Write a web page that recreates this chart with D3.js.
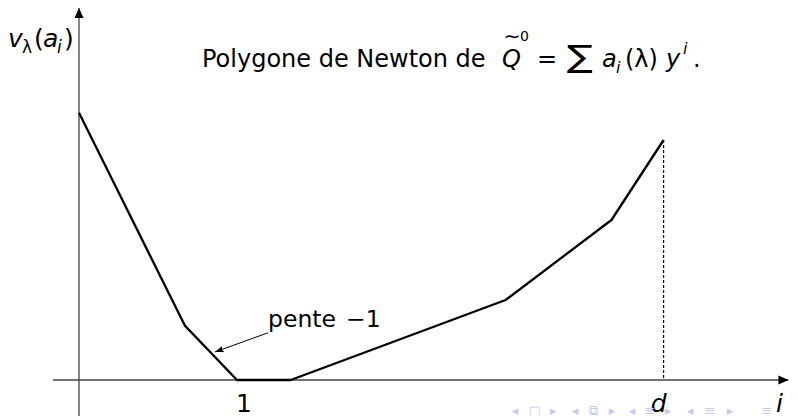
<!DOCTYPE html>
<html>
<head>
<meta charset="utf-8">
<script src="https://cdn.jsdelivr.net/npm/d3@7"></script>
<style>
  html, body { margin: 0; padding: 0; background: #fff; }
  text { font-family: "DejaVu Sans", sans-serif; fill: #000; }
</style>
</head>
<body>
<script>
// vertices of the Newton polygon: i (abscissa) and v_lambda(a_i) (ordinate)
var polyI = [0, 0.67, 1, 1.34, 2.70, 3.37, 3.70];
var polyV = [3.34, 0.68, 0, 0, 1.0, 2.0, 3.0];

// tick labels on the i axis
var tickValues = [1, 3.70];
var tickLabels = ['1', 'd'];

// "pente -1" annotation: arrow from label to the polygon
var arrowFrom = [1.196, 0.59];
var arrowTo = [0.86, 0.35];

// axis extents (in data units)
var xAxisRange = [-0.165, 4.49];
var yAxisRange = [-0.45, 4.65];

var svgWidth = 798;
var svgHeight = 416;

var svg = d3.select('body').append('svg')
    .attr('width', svgWidth)
    .attr('height', svgHeight);

var x = d3.scaleLinear().domain([0, 1]).range([79, 237]);
var y = d3.scaleLinear().domain([0, 1]).range([380, 300]);

var defs = svg.append('defs');
defs.append('marker')
    .attr('id', 'axisHead')
    .attr('viewBox', '0 -5 10 10')
    .attr('refX', 10).attr('refY', 0)
    .attr('markerWidth', 10).attr('markerHeight', 10)
    .attr('markerUnits', 'userSpaceOnUse')
    .attr('orient', 'auto')
    .append('path').attr('d', 'M0,-4.5L10,0L0,4.5Z').attr('fill', '#000');
defs.append('marker')
    .attr('id', 'thinHead')
    .attr('viewBox', '0 -5 10 10')
    .attr('refX', 10).attr('refY', 0)
    .attr('markerWidth', 9).attr('markerHeight', 9)
    .attr('markerUnits', 'userSpaceOnUse')
    .attr('orient', 'auto')
    .append('path').attr('d', 'M0,-3.5L10,0L0,3.5L2,0Z').attr('fill', '#000');

// axes
svg.append('line')
    .attr('x1', x(xAxisRange[0])).attr('y1', y(0))
    .attr('x2', x(xAxisRange[1])).attr('y2', y(0))
    .attr('stroke', '#444').attr('stroke-width', 1.3)
    .attr('marker-end', 'url(#axisHead)');
svg.append('line')
    .attr('x1', x(0)).attr('y1', y(yAxisRange[0]))
    .attr('x2', x(0)).attr('y2', y(yAxisRange[1]))
    .attr('stroke', '#444').attr('stroke-width', 1.3)
    .attr('marker-end', 'url(#axisHead)');

// dotted drop line at i = d
var last = polyI.length - 1;
svg.append('line')
    .attr('x1', x(polyI[last])).attr('y1', y(polyV[last]))
    .attr('x2', x(polyI[last])).attr('y2', y(0))
    .attr('stroke', '#000').attr('stroke-width', 1.2)
    .attr('stroke-dasharray', '3,2');

// the polygon
var line = d3.line()
    .x(function (d, i) { return x(polyI[i]); })
    .y(function (d, i) { return y(polyV[i]); });
svg.append('path')
    .attr('d', line(polyI))
    .attr('fill', 'none')
    .attr('stroke', '#000')
    .attr('stroke-width', 2.3)
    .attr('stroke-linejoin', 'round');

// annotation arrow
svg.append('line')
    .attr('x1', x(arrowFrom[0])).attr('y1', y(arrowFrom[1]))
    .attr('x2', x(arrowTo[0])).attr('y2', y(arrowTo[1]))
    .attr('stroke', '#000').attr('stroke-width', 1)
    .attr('marker-end', 'url(#thinHead)');

var pente = svg.append('text')
    .attr('x', 268).attr('y', 327)
    .attr('font-size', 23.5);
pente.append('tspan').text('pente');
pente.append('tspan').attr('dx', 10).text('\u22121');

// tick labels
svg.selectAll('.tick-label')
    .data(tickValues)
    .enter().append('text')
    .attr('class', 'tick-label')
    .attr('x', function (d, i) { return x(d) + (i === 0 ? 7 : -5); })
    .attr('y', 412)
    .attr('text-anchor', 'middle')
    .attr('font-size', 25)
    .attr('font-style', function (d, i) { return tickLabels[i] === 'd' ? 'italic' : 'normal'; })
    .text(function (d, i) { return tickLabels[i]; });

// axis titles
svg.append('text')
    .attr('x', 776).attr('y', 412)
    .attr('font-size', 25).attr('font-style', 'italic')
    .text('i');

var yl = svg.append('g').attr('font-size', 25);
yl.append('text').attr('x', 8).attr('y', 47).attr('font-style', 'italic').text('v');
yl.append('text').attr('x', 22).attr('y', 53).attr('font-size', 17).text('\u03bb');
yl.append('text').attr('x', 34).attr('y', 47).text('(');
yl.append('text').attr('x', 43).attr('y', 47).attr('font-style', 'italic').text('a');
yl.append('text').attr('x', 57).attr('y', 53).attr('font-size', 17).attr('font-style', 'italic').text('i');
yl.append('text').attr('x', 64).attr('y', 47).text(')');

// title
var tg = svg.append('g').attr('font-size', 24);
tg.append('text').attr('x', 202).attr('y', 67).text('Polygone de Newton de');
tg.append('text').attr('x', 502).attr('y', 67).attr('font-style', 'italic').text('Q');
tg.append('text').attr('x', 512).attr('y', 43).attr('font-size', 20).attr('text-anchor', 'middle')
    .attr('textLength', 17).attr('lengthAdjust', 'spacingAndGlyphs').text('\u223c');
tg.append('text').attr('x', 520).attr('y', 41).attr('font-size', 14).text('0');
tg.append('text').attr('x', 537).attr('y', 67).text('=');
tg.append('text').attr('x', 567).attr('y', 67).attr('font-size', 31)
    .attr('textLength', 26).attr('lengthAdjust', 'spacingAndGlyphs').text('\u2211');
tg.append('text').attr('x', 602).attr('y', 67).attr('font-style', 'italic').text('a');
tg.append('text').attr('x', 616).attr('y', 73).attr('font-size', 16).attr('font-style', 'italic').text('i');
tg.append('text').attr('x', 625).attr('y', 67).text('(\u03bb)');
tg.append('text').attr('x', 666).attr('y', 67).attr('font-style', 'italic').text('y');
tg.append('text').attr('x', 683).attr('y', 54).attr('font-size', 16).attr('font-style', 'italic').text('i');
tg.append('text').attr('x', 693).attr('y', 67).text('.');

// beamer navigation symbols
var navSymbols = ['\u25c2', '\u25a1', '\u25b8', '\u25c2', '\u29c9', '\u25b8', '\u25c2', '\u2261', '\u25b8', '\u25c2', '\u2261', '\u25b8', '\u2261'];
var navX = [515, 535, 553, 575, 593, 612, 632, 650, 668, 690, 710, 730, 767];
svg.selectAll('.nav')
    .data(navSymbols)
    .enter().append('text')
    .attr('class', 'nav')
    .attr('x', function (d, i) { return navX[i]; })
    .attr('y', 415)
    .attr('text-anchor', 'middle')
    .attr('font-size', 13)
    .style('fill', '#c6c9e8')
    .text(function (d) { return d; });
</script>
</body>
</html>
